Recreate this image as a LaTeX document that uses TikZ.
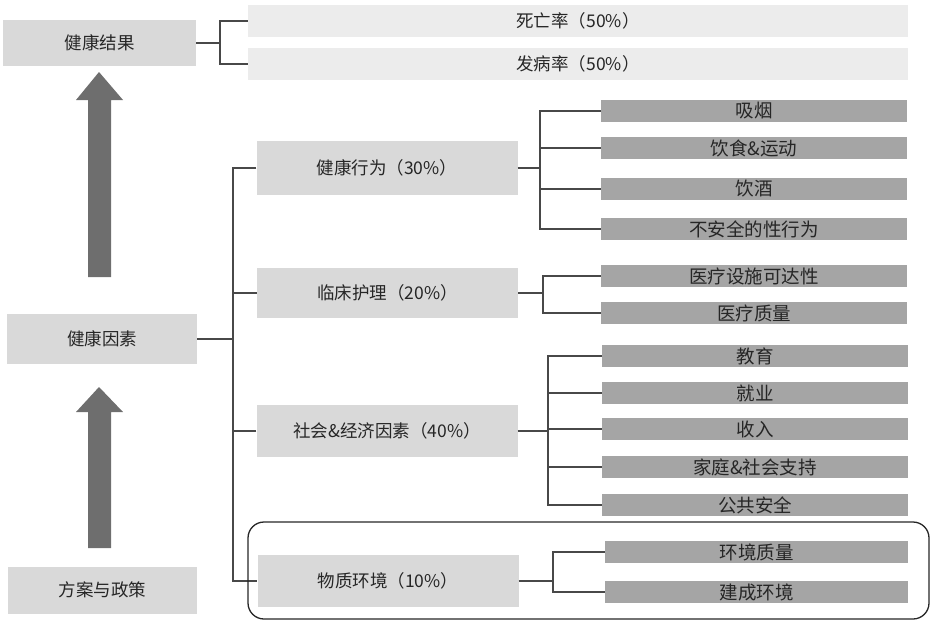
\documentclass[tikz,border=0pt]{standalone}
\usepackage{fontspec}
\newfontfamily\cjk{Noto Sans CJK SC}
\definecolor{lightbox}{HTML}{D9D9D9}
\definecolor{paleBox}{HTML}{ECECEC}
\definecolor{darkbox}{HTML}{A5A5A5}
\definecolor{arrowgray}{HTML}{6E6E6E}
\definecolor{linegray}{HTML}{484848}
\definecolor{txt}{HTML}{262626}
\tikzset{
  lbox/.style={fill=lightbox, inner sep=0pt, text=txt, font=\cjk\fontsize{17.5}{20}\selectfont},
  pbox/.style={fill=paleBox, inner sep=0pt, minimum width=660pt, minimum height=32pt, text=txt, font=\cjk\fontsize{17.5}{20}\selectfont},
  leftbox/.style={lbox, minimum width=190pt, minimum height=48pt},
  midbox/.style={lbox, minimum width=261pt, minimum height=51pt},
  kid/.style={fill=darkbox, inner sep=0pt, minimum width=306pt, minimum height=22pt, text=txt, font=\cjk\fontsize{18.5}{20}\selectfont},
  conn/.style={draw=linegray, line width=1.1pt},
  bigarrow/.style={fill=arrowgray}
}
\begin{document}
\begin{tikzpicture}[x=1pt,y=-1pt]
\useasboundingbox (0,0) rectangle (933,621);
% left column
\node[leftbox, minimum width=193pt, minimum height=46pt] (res) at (99.5,43) {健康结果};
\node[leftbox, minimum height=50pt] (fac) at (102,339) {健康因素};
\node[leftbox, minimum width=189pt, minimum height=47pt] (pol) at (102.5,590) {方案与政策};
% arrows
\fill[bigarrow] (88,277) -- (88,100) -- (76,100) -- (99,72) -- (123,100) -- (111,100) -- (111,277) -- cycle;
\fill[bigarrow] (88,548) -- (88,412) -- (76,412) -- (99,387) -- (123,412) -- (111,412) -- (111,548) -- cycle;
% outcomes
\node[pbox] (mort) at (578,21) {死亡率（50\%）};
\node[pbox] (morb) at (578,64) {发病率（50\%）};
\coordinate (b0) at (220,43);
\draw[conn] (res.east) -- (b0);
\draw[conn] (mort.west) -| (b0) |- (morb.west);
% middle column
\node[midbox, minimum height=54pt] (beh) at (387,168) {健康行为（30\%）};
\node[midbox, minimum height=50pt] (clin) at (387.5,293) {临床护理（20\%）};
\node[midbox, minimum height=52pt] (soc) at (387,431) {社会\&经济因素（40\%）};
\node[midbox, minimum height=52pt] (env) at (388,581) {物质环境（10\%）};
\coordinate (t) at (233,339);
\draw[conn] (fac.east) -- (t);
\draw[conn] (beh.west) -| (t) |- (env.west);
\draw[conn] (clin.west) -| (t);
\draw[conn] (soc.west) -| (t);
% behaviour children
\node[kid] (smoke) at (754,111) {吸烟};
\node[kid] (diet) at (754,148) {饮食\&运动};
\node[kid] (alc) at (754,189) {饮酒};
\node[kid] (sex) at (754,229) {不安全的性行为};
\coordinate (bb) at (540,168);
\draw[conn] (beh.east) -- (bb);
\draw[conn] (smoke.west) -| (bb) |- (sex.west);
\draw[conn] (diet.west) -| (bb);
\draw[conn] (alc.west) -| (bb);
% clinical children
\node[kid] (acc) at (754,276) {医疗设施可达性};
\node[kid] (qual) at (754,313) {医疗质量};
\coordinate (bc) at (543,293);
\draw[conn] (clin.east) -- (bc);
\draw[conn] (acc.west) -| (bc) |- (qual.west);
% social children
\node[kid] (edu) at (755,356) {教育};
\node[kid] (job) at (755,393) {就业};
\node[kid] (inc) at (755,429) {收入};
\node[kid] (fam) at (755,467) {家庭\&社会支持};
\node[kid] (saf) at (755,505) {公共安全};
\coordinate (bs) at (548,431);
\draw[conn] (soc.east) -- (bs);
\draw[conn] (edu.west) -| (bs) |- (saf.west);
\draw[conn] (job.west) -| (bs);
\draw[conn] (inc.west) -| (bs);
\draw[conn] (fam.west) -| (bs);
% environment group
\node[kid, minimum width=303pt] (envq) at (756.5,552) {环境质量};
\node[kid, minimum width=303pt] (blt) at (756.5,592) {建成环境};
\coordinate (be) at (553,581);
\draw[conn] (env.east) -- (be);
\draw[conn] (envq.west) -| (be) |- (blt.west);
\draw[line width=1.3pt, draw=black!85, rounded corners=16pt] (248,522) rectangle (929,619);
\end{tikzpicture}
\end{document}
